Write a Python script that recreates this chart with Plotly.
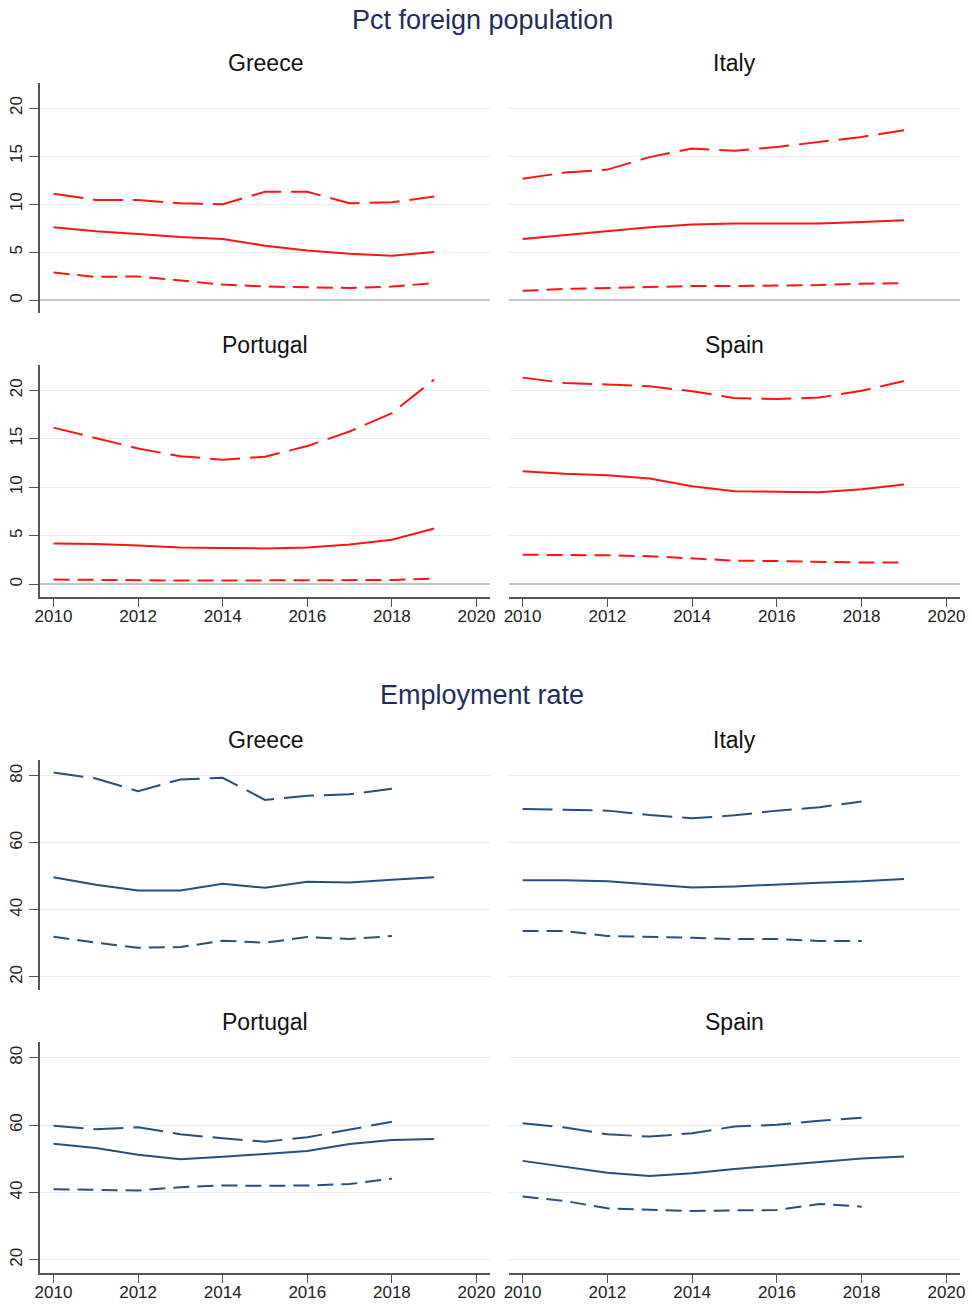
import plotly.graph_objects as go

# ---------------- data ----------------
years = [2010, 2011, 2012, 2013, 2014, 2015, 2016, 2017, 2018, 2019]
years_ci_emp = [2010, 2011, 2012, 2013, 2014, 2015, 2016, 2017, 2018]
countries = ["Greece", "Italy", "Portugal", "Spain"]
x_ticks = [2010, 2012, 2014, 2016, 2018, 2020]
fp_ticks = [0, 5, 10, 15, 20]
emp_ticks = [20, 40, 60, 80]
section_titles = ["Pct foreign population", "Employment rate"]

fp_greece_mean = [7.6, 7.2, 6.9, 6.6, 6.4, 5.7, 5.2, 4.85, 4.65, 5.05]
fp_greece_upper = [11.1, 10.45, 10.45, 10.1, 10.0, 11.3, 11.3, 10.1, 10.2, 10.8]
fp_greece_lower = [2.9, 2.45, 2.5, 2.05, 1.65, 1.45, 1.35, 1.3, 1.45, 1.8]

fp_italy_mean = [6.4, 6.8, 7.15, 7.6, 7.9, 8.0, 8.0, 8.0, 8.15, 8.35]
fp_italy_upper = [12.65, 13.3, 13.6, 14.9, 15.8, 15.55, 15.95, 16.5, 17.0, 17.7]
fp_italy_lower = [1.0, 1.2, 1.3, 1.4, 1.5, 1.5, 1.55, 1.6, 1.75, 1.8]

fp_portugal_mean = [4.2, 4.15, 4.0, 3.8, 3.75, 3.7, 3.8, 4.1, 4.6, 5.75]
fp_portugal_upper = [16.15, 15.05, 14.0, 13.2, 12.85, 13.15, 14.25, 15.75, 17.65, 21.1]
fp_portugal_lower = [0.5, 0.45, 0.4, 0.4, 0.4, 0.4, 0.4, 0.4, 0.45, 0.6]

fp_spain_mean = [11.65, 11.4, 11.25, 10.9, 10.1, 9.6, 9.55, 9.5, 9.8, 10.3]
fp_spain_upper = [21.3, 20.75, 20.6, 20.4, 19.9, 19.2, 19.1, 19.25, 19.95, 20.95]
fp_spain_lower = [3.05, 3.05, 3.0, 2.9, 2.65, 2.45, 2.4, 2.3, 2.25, 2.25]

emp_greece_mean = [49.7, 47.5, 45.8, 45.8, 47.8, 46.6, 48.4, 48.2, 49.0, 49.7]
emp_greece_upper = [81.0, 79.2, 75.4, 78.9, 79.4, 72.8, 74.0, 74.5, 76.1]
emp_greece_lower = [32.0, 30.2, 28.7, 28.9, 30.8, 30.2, 31.9, 31.3, 32.2]

emp_italy_mean = [48.8, 48.8, 48.5, 47.5, 46.7, 47.0, 47.6, 48.1, 48.5, 49.2]
emp_italy_upper = [70.1, 69.8, 69.6, 68.3, 67.3, 68.2, 69.6, 70.6, 72.3]
emp_italy_lower = [33.7, 33.7, 32.2, 32.0, 31.7, 31.3, 31.3, 30.7, 30.7]

emp_portugal_mean = [54.5, 53.2, 51.2, 49.9, 50.6, 51.4, 52.3, 54.4, 55.6, 55.9]
emp_portugal_upper = [59.8, 58.8, 59.4, 57.3, 56.1, 55.1, 56.4, 58.8, 61.0]
emp_portugal_lower = [41.0, 40.7, 40.6, 41.6, 42.1, 42.0, 42.1, 42.5, 44.1]

emp_spain_mean = [49.4, 47.7, 45.9, 44.9, 45.7, 47.0, 48.1, 49.2, 50.1, 50.7]
emp_spain_upper = [60.6, 59.3, 57.3, 56.6, 57.6, 59.6, 60.1, 61.3, 62.2]
emp_spain_lower = [38.8, 37.5, 35.3, 35.0, 34.5, 34.7, 34.8, 36.6, 35.8]

# ---------------- layout geometry ----------------
W, H = 972, 1305
FONT = "Liberation Sans, Arial, Helvetica, sans-serif"
RED = "#ff1414"
NAVY = "#27507a"
TITLE_COLOR = "#1f2d5c"
GRID = "#e6eef0"
AXIS = "#555555"

col_px = [(40, 490), (509, 960)]
row_px = [(83, 313), (365, 597), (760, 990), (1042, 1273)]
x_range = [2009.68, 2020.32]
fp_range = [-1.3, 22.6]
emp_range = [16.1, 84.7]

panels = [
    # (row, col, country, mean, upper, lower, color, ci_years, section)
    (0, 0, "Greece", fp_greece_mean, fp_greece_upper, fp_greece_lower, RED, years, 0),
    (0, 1, "Italy", fp_italy_mean, fp_italy_upper, fp_italy_lower, RED, years, 0),
    (1, 0, "Portugal", fp_portugal_mean, fp_portugal_upper, fp_portugal_lower, RED, years, 0),
    (1, 1, "Spain", fp_spain_mean, fp_spain_upper, fp_spain_lower, RED, years, 0),
    (2, 0, "Greece", emp_greece_mean, emp_greece_upper, emp_greece_lower, NAVY, years_ci_emp, 1),
    (2, 1, "Italy", emp_italy_mean, emp_italy_upper, emp_italy_lower, NAVY, years_ci_emp, 1),
    (3, 0, "Portugal", emp_portugal_mean, emp_portugal_upper, emp_portugal_lower, NAVY, years_ci_emp, 1),
    (3, 1, "Spain", emp_spain_mean, emp_spain_upper, emp_spain_lower, NAVY, years_ci_emp, 1),
]

fig = go.Figure()
layout = {}
annotations = []

for i, (r, c, name, mean, upper, lower, color, ci_years, sec) in enumerate(panels):
    n = i + 1
    xa = "x" if n == 1 else f"x{n}"
    ya = "y" if n == 1 else f"y{n}"
    xkey = "xaxis" if n == 1 else f"xaxis{n}"
    ykey = "yaxis" if n == 1 else f"yaxis{n}"

    fig.add_trace(go.Scatter(x=ci_years, y=upper, mode="lines", xaxis=xa, yaxis=ya,
                             line=dict(color=color, width=2, dash="30px,10px"),
                             showlegend=False, hoverinfo="x+y"))
    fig.add_trace(go.Scatter(x=years, y=mean, mode="lines", xaxis=xa, yaxis=ya,
                             line=dict(color=color, width=2),
                             showlegend=False, hoverinfo="x+y"))
    fig.add_trace(go.Scatter(x=ci_years, y=lower, mode="lines", xaxis=xa, yaxis=ya,
                             line=dict(color=color, width=2, dash="16px,8px"),
                             showlegend=False, hoverinfo="x+y"))

    x0, x1 = col_px[c]
    y0, y1 = row_px[r]
    bottom_row = r in (1, 3)
    left_col = c == 0

    layout[xkey] = dict(
        domain=[x0 / W, x1 / W], range=x_range, anchor=ya,
        tickvals=x_ticks, ticktext=[str(t) for t in x_ticks],
        showgrid=False, zeroline=False,
        showline=bottom_row, linecolor=AXIS, linewidth=1.5,
        ticks="outside" if bottom_row else "", ticklen=8, tickwidth=1.3, tickcolor=AXIS,
        showticklabels=bottom_row, ticklabelstandoff=-5,
        tickfont=dict(family=FONT, size=17, color="#222222"),
        automargin=False, fixedrange=True,
    )
    ticks = fp_ticks if sec == 0 else emp_ticks
    layout[ykey] = dict(
        domain=[1 - y1 / H, 1 - y0 / H], range=fp_range if sec == 0 else emp_range,
        anchor=xa,
        tickvals=ticks, ticktext=[str(t) for t in ticks],
        showgrid=True, gridcolor=GRID, gridwidth=1.2,
        zeroline=(sec == 0), zerolinecolor="#c4c4c4", zerolinewidth=1.6,
        showline=left_col, linecolor=AXIS, linewidth=1.5,
        ticks="outside" if left_col else "", ticklen=9, tickwidth=1.3, tickcolor=AXIS,
        showticklabels=left_col, tickangle=-90,
        tickfont=dict(family=FONT, size=17, color="#222222"),
        automargin=False, fixedrange=True,
    )
    # panel title
    annotations.append(dict(
        text=name, x=((x0 + x1) / 2) / W, y=1 - (y0 - 20) / H,
        xref="paper", yref="paper", xanchor="center", yanchor="middle",
        showarrow=False, font=dict(family=FONT, size=23, color="#111111"),
    ))

for title, ypx in zip(section_titles, [20, 695]):
    annotations.append(dict(
        text=title, x=482 / W, y=1 - ypx / H, xref="paper", yref="paper",
        xanchor="center", yanchor="middle", showarrow=False,
        font=dict(family=FONT, size=27, color=TITLE_COLOR),
    ))

fig.update_layout(
    width=W, height=H,
    margin=dict(l=0, r=0, t=0, b=0),
    paper_bgcolor="white", plot_bgcolor="white",
    annotations=annotations,
    **layout,
)

fig.write_html(
    "out.html",
    config={"displayModeBar": False},
    post_script="document.body.style.margin='0px';document.body.style.overflow='hidden';",
)
